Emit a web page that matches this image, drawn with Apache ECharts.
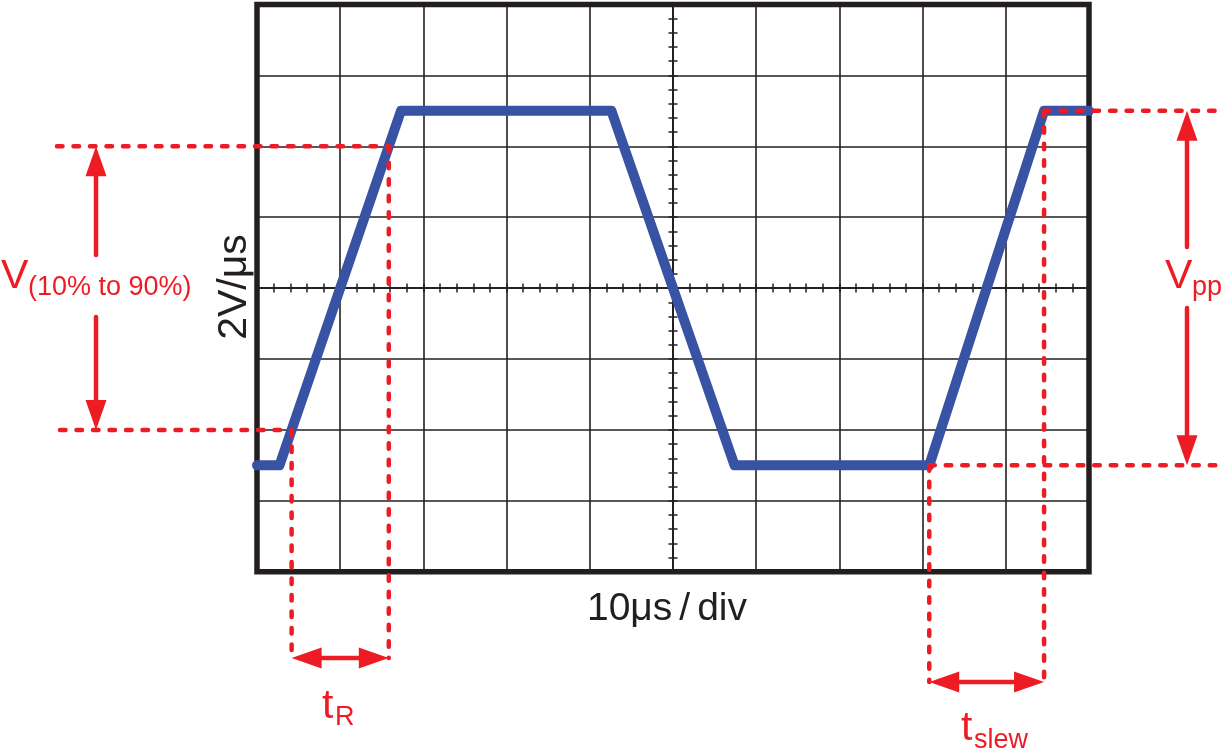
<!DOCTYPE html>
<html><head><meta charset="utf-8">
<script src="https://cdn.jsdelivr.net/npm/echarts@6/dist/echarts.min.js"></script>
<style>html,body{margin:0;padding:0;background:#fff}#c{width:1222px;height:751px}</style>
</head><body><div id="c"></div>
<script>
// Oscilloscope trace, in screen divisions (x: 10 µs/div, y: 2 V/div), origin at screen centre
const xRange = [-5, 5];
const yRange = [-4, 4];
const waveX = [-5, -4.73, -3.27, -0.74, 0.74, 3.08, 4.46, 5];
const waveY = [-2.5, -2.5, 2.5, 2.5, -2.5, -2.5, 2.5, 2.5];
// measurement levels and instants (same units)
const levels10to90 = [-2, 2];
const levelsPP = [-2.5, 2.5];
const riseTimes = [-4.584, -3.416];   // t_R
const slewTimes = [3.08, 4.46];       // t_slew
// label texts
const xTitle = ['10μs', '/', 'div'];
const yTitle = '2V/μs';

const INK = '#231f20', RED = '#ed1c24', BLUE = '#3953a4';
const FONT = '"Liberation Sans", Arial, Helvetica, sans-serif';

const chart = echarts.init(document.getElementById('c'), null, {renderer: 'canvas'});

function mkAxis(kind, inside, withSplit) {
  return {
    type: 'value', min: kind === 'x' ? xRange[0] : yRange[0], max: kind === 'x' ? xRange[1] : yRange[1], interval: 1,
    position: kind === 'x' ? 'bottom' : 'left',
    axisLine: {show: true, onZero: true, lineStyle: {color: INK, width: 1.6}},
    axisTick: {show: true, inside: inside, length: 4.5, lineStyle: {color: INK, width: 1.5}},
    minorTick: {show: true, splitNumber: 5, length: 4.5, lineStyle: {color: INK, width: 1.5}},
    axisLabel: {show: false},
    splitLine: {show: withSplit, lineStyle: {color: INK, width: 1.6}},
    minorSplitLine: {show: false}
  };
}

chart.setOption({
  animation: false,
  backgroundColor: '#fff',
  grid: {left: 257, right: 133, top: 4.5, bottom: 179.3, show: true, borderColor: INK, borderWidth: 5.5, backgroundColor: 'transparent'},
  xAxis: [mkAxis('x', false, true), mkAxis('x', true, false)],
  yAxis: [mkAxis('y', false, true), mkAxis('y', true, false)],
  series: [{
    type: 'line', xAxisIndex: 0, yAxisIndex: 0, z: 5,
    data: waveX.map((x, i) => [x, waveY[i]]),
    showSymbol: false, symbol: 'none',
    lineStyle: {color: BLUE, width: 10, cap: 'round', join: 'round'}
  }]
});

const P = (x, y) => chart.convertToPixel({seriesIndex: 0}, [x, y]);
const g = [];
function dash(a, b) {
  g.push({type: 'line', z: 100, silent: true,
    shape: {x1: a[0], y1: a[1], x2: b[0], y2: b[1]},
    style: {stroke: RED, lineWidth: 4.5, lineDash: [5.5, 11], lineCap: 'round'}});
}
function head(tip, ux, uy) {
  const hl = 30, hw = 10.5;
  const bx = tip[0] - ux * hl, by = tip[1] - uy * hl;
  g.push({type: 'polygon', z: 101, silent: true,
    shape: {points: [[tip[0], tip[1]], [bx - uy * hw, by + ux * hw], [bx + uy * hw, by - ux * hw]]},
    style: {fill: RED}});
  return [bx, by];
}
function shaft(a, b) {
  g.push({type: 'line', z: 101, silent: true,
    shape: {x1: a[0], y1: a[1], x2: b[0], y2: b[1]},
    style: {stroke: RED, lineWidth: 4.5, lineCap: 'round'}});
}
function vArrow(x, yTail, yTip) {
  const dir = yTip > yTail ? 1 : -1;
  const base = head([x, yTip], 0, dir);
  shaft([x, yTail], [x, base[1] + dir * 2]);
}
function hDouble(y, x1, x2) {
  const b1 = head([x1, y], -1, 0);
  const b2 = head([x2, y], 1, 0);
  shaft([b1[0] - 2, y], [b2[0] + 2, y]);
}
function txt(x, y, s, size, color, extra) {
  g.push(Object.assign({type: 'text', z: 102, silent: true, x: x, y: y,
    style: {text: s, font: size + 'px ' + FONT, fill: color, align: 'left', verticalAlign: 'middle', textAlign: 'left', textVerticalAlign: 'middle'}}, extra || {}));
}

// 10%-90% levels
const p90 = P(riseTimes[1], levels10to90[1]);
const p10 = P(riseTimes[0], levels10to90[0]);
dash([57, p90[1]], p90);
dash([60, p10[1]], p10);
// tR verticals
const tRy = 658;
dash(p10, [p10[0], tRy]);
dash(p90, [p90[0], tRy]);
hDouble(tRy, p10[0], p90[0]);
// V(10% to 90%) arrows
vArrow(96, 255, p90[1]);
vArrow(96, 317, p10[1]);

// Vpp / slew
const pLo = P(slewTimes[0], levelsPP[0]);
const pHi = P(slewTimes[1], levelsPP[1]);
const tSy = 682;
dash(pLo, [1222, pLo[1]]);
dash(pHi, [1222, pHi[1]]);
dash(pLo, [pLo[0], tSy]);
dash(pHi, [pHi[0], tSy]);
hDouble(tSy, pLo[0], pHi[0]);
vArrow(1187, 247, pHi[1]);
vArrow(1187, 308, pLo[1]);

// red labels
txt(1, 277, 'V', 41, RED);
txt(28, 287.5, '(10% to 90%)', 27, RED);
txt(1165, 277, 'V', 41, RED);
txt(1192, 287.5, 'pp', 27, RED);
txt(322, 707, 't', 41, RED);
txt(335, 718, 'R', 27, RED);
txt(961, 729, 't', 41, RED);
txt(974, 740.5, 'slew', 27, RED);

// axis titles
g.push({type: 'text', z: 102, silent: true, x: 235, y: 287, rotation: Math.PI / 2,
  style: {text: yTitle, font: '41px ' + FONT, fill: INK, align: 'center', verticalAlign: 'middle', textAlign: 'center', textVerticalAlign: 'middle'}});
g.push({type: 'text', z: 102, silent: true, x: 667, y: 609,
  style: {text: '{a|' + xTitle[0] + '}{b|' + xTitle[1] + '}{a|' + xTitle[2] + '}',
    align: 'center', verticalAlign: 'middle', textAlign: 'center', textVerticalAlign: 'middle',
    rich: {a: {font: '39px ' + FONT, fill: INK, color: INK}, b: {font: '39px ' + FONT, fill: INK, color: INK, padding: [0, 7, 0, 7]}}}});

chart.setOption({graphic: {elements: g}});
</script></body></html>
